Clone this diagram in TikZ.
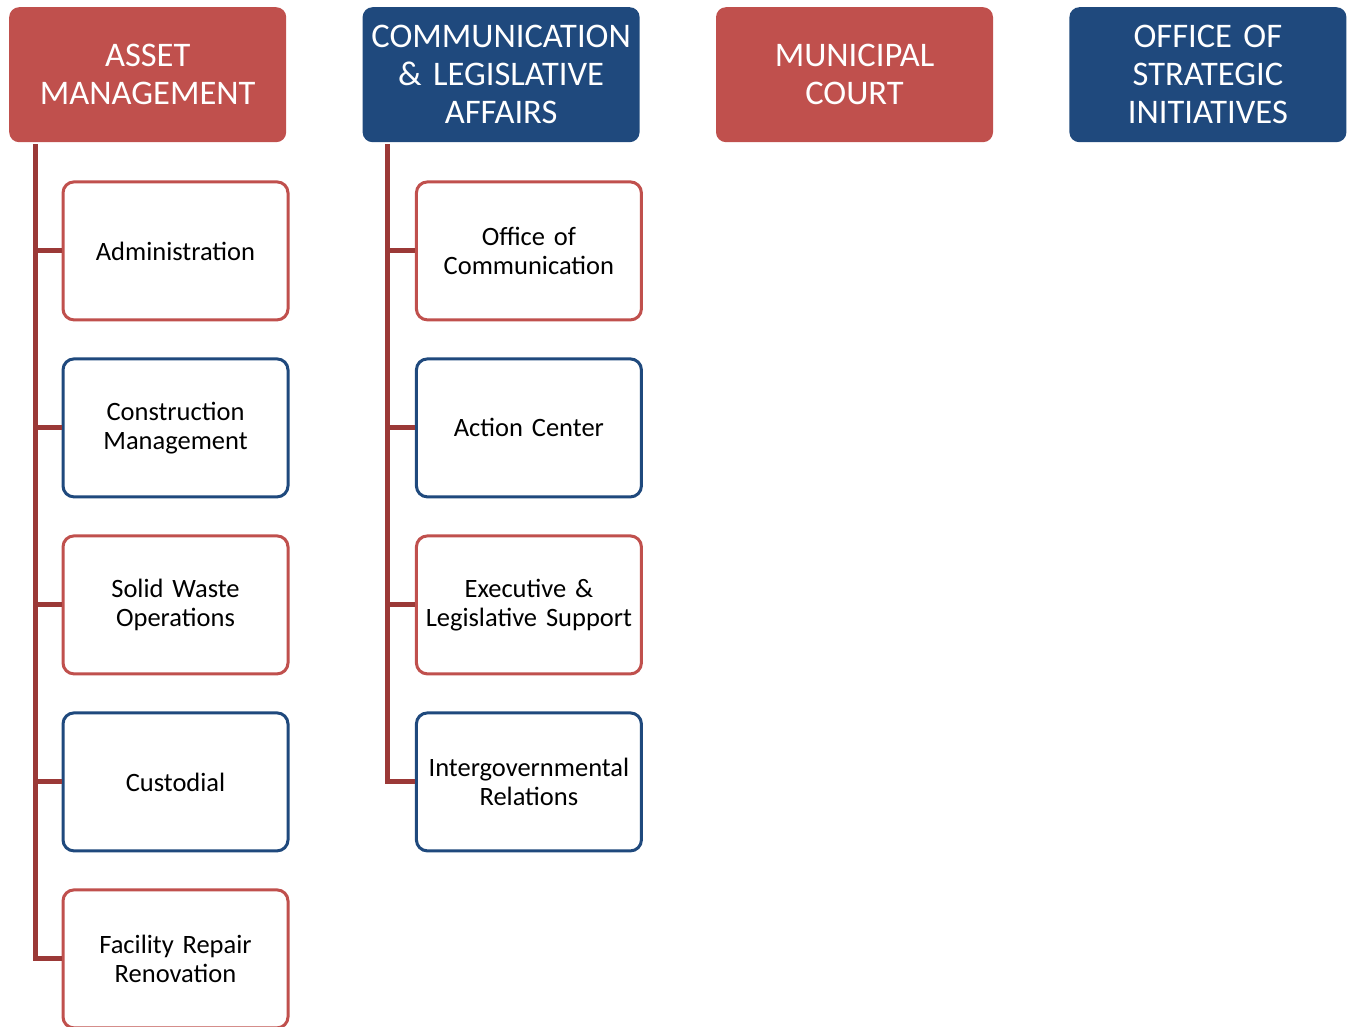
\documentclass[tikz,border=0pt]{standalone}
\usepackage{fontspec}
\setmainfont{Carlito}
\usepackage{tikz}
\usetikzlibrary{positioning}
\definecolor{hdrred}{RGB}{192,80,77}
\definecolor{hdrblue}{RGB}{31,73,125}
\definecolor{linered}{RGB}{155,57,55}
\tikzset{
  header/.style={rectangle, draw=none, text=white,
    minimum width=277pt, minimum height=135pt, text width=265pt,
    align=center, rounded corners=10pt, inner sep=0pt,
    font=\fontsize{34.5}{38}\selectfont},
  redhead/.style={header, fill=hdrred},
  bluehead/.style={header, fill=hdrblue},
  unit/.style={rectangle, fill=white, line width=3pt,
    minimum width=225pt, minimum height=138pt, text width=215pt,
    align=center, rounded corners=11pt, inner sep=0pt,
    font=\fontsize{26.5}{29.5}\selectfont},
  redunit/.style={unit, draw=hdrred},
  blueunit/.style={unit, draw=hdrblue},
  conn/.style={line width=5pt, color=linered}
}
\begin{document}
\begin{tikzpicture}[x=1pt, y=-1pt]
  \useasboundingbox (0,0) rectangle (1348,1027);

  % Headers
  \node[redhead, anchor=north west] (h1) at (9,7) {ASSET\\MANAGEMENT};
  \node[bluehead, right=76pt of h1] (h2) {COMMUNICATION\\\& LEGISLATIVE\\AFFAIRS};
  \node[redhead, right=76pt of h2] (h3) {MUNICIPAL\\COURT};
  \node[bluehead, right=76pt of h3] (h4) {OFFICE OF\\STRATEGIC\\INITIATIVES};

  % Asset Management units
  \node[redunit, below right=38pt and 52.5pt of h1.south west] (a1) {Administration};
  \node[blueunit, below=36pt of a1] (a2) {Construction\\Management};
  \node[redunit, below=36pt of a2] (a3) {Solid Waste\\Operations};
  \node[blueunit, below=36pt of a3] (a4) {Custodial};
  \node[redunit, below=36pt of a4] (a5) {Facility Repair\\Renovation};

  % Communication units
  \node[redunit, below right=38pt and 52.5pt of h2.south west] (b1) {Office of\\Communication};
  \node[blueunit, below=36pt of b1] (b2) {Action Center};
  \node[redunit, below=36pt of b2] (b3) {Executive \&\\Legislative Support};
  \node[blueunit, below=36pt of b3] (b4) {Intergovernmental\\Relations};

  % Connections
  \foreach \u in {a1,a2,a3,a4,a5}
    \draw[conn] (h1.south west) ++(26,2) |- (\u.west);
  \foreach \u in {b1,b2,b3,b4}
    \draw[conn] (h2.south west) ++(25,2) |- (\u.west);
\end{tikzpicture}
\end{document}
